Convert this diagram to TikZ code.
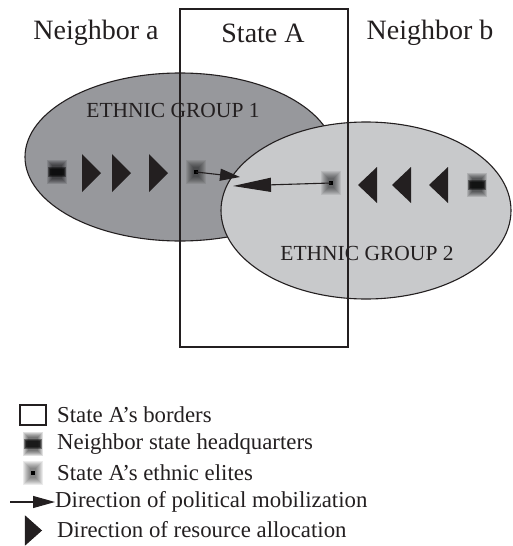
\documentclass[tikz,border=0pt]{standalone}
\usepackage{fontspec}
\setmainfont{Liberation Serif}
\usetikzlibrary{arrows.meta}
\definecolor{groupdark}{RGB}{151,152,156}
\definecolor{grouplight}{RGB}{200,201,203}
\definecolor{ink}{RGB}{35,31,32}
\tikzset{
  bigtext/.style={font=\fontsize{28}{30}\selectfont, text=ink},
  smalltext/.style={font=\fontsize{21.5}{23}\selectfont, text=ink},
  legendtext/.style={font=\fontsize{22.8}{24}\selectfont, text=ink, anchor=west, inner sep=0pt},
  border/.style={draw=ink, line width=1.4pt},
  mobil/.style={draw=ink, line width=1.1pt},
  hqmark/.pic={
    \foreach \s in {0,1,...,5}
      \fill[black, opacity=0.12] (-10+\s,-12+\s) rectangle (10-\s,12-\s);
    \foreach \s in {0,1,2}
      \fill[black, opacity=0.4] (-9+\s,-5+\s) rectangle (9-\s,5-\s);
  },
  elitemark/.pic={
    \foreach \s in {0,1,...,7}
      \fill[black, opacity=0.08] (-10+\s,-12+\s) rectangle (10-\s,12-\s);
    \fill[black] (-2,-2) rectangle (2,2);
  },
  rtri/.pic={\fill[ink] (-9.5,-19) -- (9.5,0) -- (-9.5,19) -- cycle;},
  ltri/.pic={\fill[ink] (9.5,-18) -- (-9.5,0) -- (9.5,18) -- cycle;},
}
\begin{document}
\begin{tikzpicture}[x=1pt, y=-1pt]
  \useasboundingbox (0,0) rectangle (513,546);
  \path (180,157) coordinate (G1);
  \path (366,210.5) coordinate (G2);
  \path (196,172) coordinate (e1);
  \path (331,183) coordinate (e2);
  \path (240,177) coordinate (t1);
  \path (233,186) coordinate (t2);
  \filldraw[fill=groupdark, draw=ink, line width=1.1pt] (G1) ellipse (155 and 84);
  \node[smalltext] (g1) at (173,110) {ETHNIC GROUP 1};
  \filldraw[fill=grouplight, draw=ink, line width=1.1pt] (G2) ellipse (145 and 88.5);
  \node[smalltext] (g2) at (367,253) {ETHNIC GROUP 2};
  \draw[border] (180,9) rectangle (348,347);
  \node[bigtext] (na) at (96,33) {Neighbor a};
  \node[bigtext] (sa) at (263,33) {State A};
  \node[bigtext] (nb) at (430,33) {Neighbor b};
  \pic at (57,171.5) {hqmark};
  \pic at (476.5,185) {hqmark};
  \foreach \x in {91.5,121.5,158.5}
    \pic at (\x,173) {rtri};
  \foreach \x in {367.5,401.5,438.5}
    \pic at (\x,185) {ltri};
  \pic at (e1) {elitemark};
  \pic at (e2) {elitemark};
  \draw[mobil, -{Triangle[length=20pt, width=12pt]}] (e1) -- (t1);
  \draw[mobil, -{Triangle[length=38pt, width=14pt]}] (e2) -- (t2);
  \draw[ink, line width=1.6pt] (20,405) rectangle (46,425);
  \node[legendtext] (l1) at (57,415) {State A’s borders};
  \pic at (33,444) {hqmark};
  \node[legendtext] (l2) at (57,444) {Neighbor state headquarters};
  \pic at (33,473) {elitemark};
  \node[legendtext] (l3) at (57,473) {State A’s ethnic elites};
  \node[legendtext] (l4) at (55,502) {Direction of political mobilization};
  \coordinate (a0) at (10,502);
  \draw[mobil, -{Triangle[length=22pt, width=12pt]}] (a0) -- (l4.west);
  \pic[xscale=0.9, yscale=0.8] at (33.5,530.5) {rtri};
  \node[legendtext] (l5) at (57,530) {Direction of resource allocation};
\end{tikzpicture}
\end{document}
